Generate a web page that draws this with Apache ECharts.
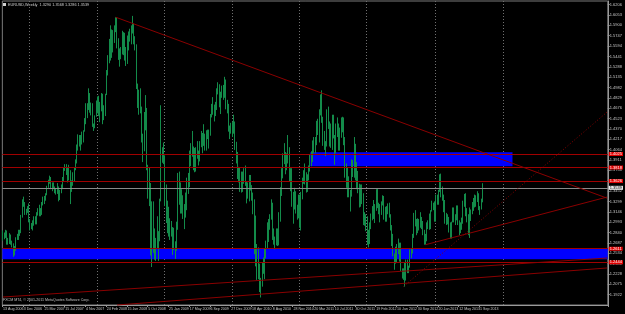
<!DOCTYPE html>
<html>
<head>
<meta charset="utf-8">
<script src="https://cdn.jsdelivr.net/npm/echarts@6/dist/echarts.min.js"></script>
<style>
  html, body { margin: 0; padding: 0; background: #000; }
  #main { width: 625px; height: 314px; }
</style>
</head>
<body>
<div id="main"></div>
<script>
// EURUSD weekly, first bar = week of 13 Aug 2006
const firstOpen = 1.2770
const closes = [
  // 2006
  1.2820,1.2760,1.2840,1.2680,1.2690,1.2800,1.2680,1.2650,1.2520,1.2620,1.2760,1.2760,1.2830,1.2830,1.3080,1.3260,1.3250,1.3140,1.3160,1.3200,1.3000,
  // 2007
  1.2950,1.2950,1.2950,1.3050,1.2990,1.3120,1.3180,1.3120,1.3110,1.3260,1.3290,1.3340,1.3400,1.3520,1.3580,1.3630,1.3500,1.3520,1.3510,1.3440,1.3450,1.3510,1.3330,1.3450,1.3510,1.3620,1.3780,1.3820,1.3740,1.3720,1.3740,1.3450,1.3530,1.3620,1.3780,1.3880,1.4120,1.4260,1.4240,1.4200,1.4300,1.4340,1.4530,1.4650,1.4680,1.4830,1.4630,1.4650,1.4430,1.4400,1.4560,1.4750,
  // 2008
  1.4740,1.4620,1.4690,1.4820,1.4520,1.4630,1.4880,1.5180,1.5360,1.5660,1.5450,1.5780,1.5800,1.5800,1.5930,1.5600,1.5440,1.5500,1.5520,1.5790,1.5550,1.5580,1.5370,1.5730,1.5790,1.5690,1.5820,1.5870,1.5700,1.5600,1.5000,1.4700,1.4930,1.4670,1.4260,1.4100,1.4500,1.4620,1.3800,1.3430,1.3400,1.2530,1.2730,1.2720,1.2560,1.2700,1.2690,1.2710,1.3310,1.3900,1.4000,1.3960,
  // 2009
  1.3440,1.3150,1.2830,1.2800,1.2940,1.2860,1.2670,1.2660,1.2630,1.2930,1.3580,1.3270,1.3480,1.3160,1.3070,1.3250,1.3270,1.3480,1.3510,1.3990,1.4120,1.3960,1.4010,1.3960,1.4040,1.3960,1.3940,1.4170,1.4200,1.4250,1.4180,1.4190,1.4320,1.4300,1.4310,1.4570,1.4700,1.4680,1.4560,1.4700,1.4900,1.5010,1.4730,1.4920,1.4900,1.4940,1.4970,1.4680,1.4610,1.4350,1.4400,1.4320,
  // 2010
  1.4410,1.4380,1.4140,1.3860,1.3680,1.3620,1.3610,1.3630,1.3630,1.3730,1.3530,1.3420,1.3550,1.3620,1.3500,1.3390,1.3290,1.2750,1.2360,1.2570,1.2270,1.1970,1.2110,1.2400,1.2240,1.2580,1.2640,1.2940,1.2910,1.3070,1.3280,1.2750,1.2710,1.2760,1.2890,1.2760,1.3050,1.3490,1.3790,1.3950,1.3980,1.3960,1.3940,1.4030,1.3680,1.3690,1.3240,1.3400,1.3240,1.3190,1.3090,1.3380,
  // 2011
  1.2910,1.3380,1.3620,1.3620,1.3580,1.3510,1.3690,1.3740,1.3920,1.3910,1.4020,1.4080,1.4230,1.4490,1.4430,1.4570,1.4800,1.4540,1.4140,1.4160,1.4150,1.4640,1.4450,1.4320,1.4200,1.4530,1.4260,1.4150,1.4380,1.4400,1.4280,1.4240,1.4400,1.4490,1.4210,1.3650,1.3780,1.3500,1.3390,1.3380,1.3880,1.3900,1.4150,1.3770,1.3750,1.3520,1.3240,1.3450,1.3380,1.3040,1.3050,1.2940,
  // 2012
  1.2720,1.2680,1.2930,1.3100,1.3150,1.3200,1.3160,1.3450,1.3200,1.3120,1.3180,1.3270,1.3340,1.3100,1.3080,1.3220,1.3240,1.3080,1.2910,1.2780,1.2520,1.2430,1.2630,1.2640,1.2570,1.2670,1.2290,1.2250,1.2160,1.2310,1.2390,1.2290,1.2340,1.2510,1.2580,1.2820,1.3130,1.2980,1.2860,1.3040,1.2950,1.3020,1.2940,1.2830,1.2700,1.2740,1.2970,1.2990,1.2930,1.3160,1.3210,1.3220,1.3070,
  // 2013
  1.3340,1.3320,1.3460,1.3640,1.3370,1.3360,1.3190,1.3020,1.3010,1.3070,1.2990,1.2820,1.2990,1.3110,1.3060,1.3030,1.3110,1.2990,1.2840,1.2930,1.3000,1.3220,1.3340,1.3120,1.3010,1.2830,1.3070,1.3140,1.3270,1.3270,1.3340,1.3340,1.3380,1.3220,1.3180,1.3290,1.3539
]
const highs = [
  1.2870,1.2840,1.2880,1.2870,1.2760,1.2830,1.2810,1.2720,1.2680,1.2640,1.2770,1.2820,1.2880,1.2880,1.3100,1.3330,1.3370,1.3290,1.3190,1.3230,1.3270,
  1.3040,1.2980,1.3020,1.3080,1.3080,1.3140,1.3200,1.3250,1.3200,1.3290,1.3370,1.3380,1.3420,1.3530,1.3620,1.3680,1.3660,1.3580,1.3580,1.3520,1.3490,1.3570,1.3520,1.3470,1.3550,1.3660,1.3800,1.3850,1.3850,1.3800,1.3840,1.3760,1.3610,1.3730,1.3800,1.3920,1.4140,1.4290,1.4280,1.4280,1.4330,1.4350,1.4530,1.4750,1.4750,1.4970,1.4900,1.4760,1.4750,1.4450,1.4570,1.4790,
  1.4850,1.4860,1.4770,1.4900,1.4890,1.4720,1.4890,1.5240,1.5460,1.5700,1.5900,1.5840,1.5830,1.5900,1.6020,1.6020,1.5710,1.5560,1.5580,1.5820,1.5800,1.5790,1.5500,1.5750,1.5810,1.5850,1.5900,1.6040,1.5930,1.5740,1.5620,1.5040,1.4950,1.4970,1.4700,1.4300,1.4620,1.4870,1.4680,1.3840,1.3800,1.3570,1.3300,1.3300,1.2900,1.2760,1.3080,1.2860,1.3340,1.4720,1.4100,1.4170,
  1.3980,1.3550,1.3310,1.3220,1.3050,1.3010,1.2920,1.2910,1.2710,1.3000,1.3720,1.3740,1.3580,1.3460,1.3390,1.3260,1.3430,1.3650,1.3720,1.4050,1.4160,1.4340,1.4110,1.4090,1.4100,1.4190,1.4050,1.4190,1.4340,1.4310,1.4440,1.4300,1.4350,1.4360,1.4360,1.4590,1.4740,1.4840,1.4730,1.4770,1.4970,1.5060,1.5030,1.4920,1.5010,1.5020,1.5140,1.5100,1.4800,1.4740,1.4420,1.4460,
  1.4480,1.4580,1.4480,1.4180,1.4030,1.3810,1.3800,1.3740,1.3740,1.3790,1.3830,1.3590,1.3580,1.3690,1.3690,1.3540,1.3430,1.3330,1.3090,1.2670,1.2620,1.2380,1.2170,1.2400,1.2470,1.2600,1.2720,1.2990,1.3040,1.3110,1.3330,1.3270,1.2900,1.2780,1.2900,1.2900,1.3140,1.3510,1.3790,1.4010,1.4160,1.4030,1.4010,1.4280,1.4100,1.3790,1.3790,1.3440,1.3500,1.3450,1.3250,1.3400,
  1.3400,1.3440,1.3650,1.3760,1.3860,1.3730,1.3700,1.3830,1.4000,1.4040,1.4200,1.4250,1.4250,1.4490,1.4520,1.4660,1.4880,1.4940,1.4550,1.4340,1.4190,1.4660,1.4700,1.4480,1.4450,1.4580,1.4580,1.4280,1.4450,1.4540,1.4450,1.4390,1.4540,1.4550,1.4540,1.4250,1.3860,1.3800,1.3670,1.3470,1.3920,1.3910,1.4250,1.4130,1.3880,1.3660,1.3560,1.3550,1.3550,1.3420,1.3140,1.3110,
  1.3080,1.2880,1.2990,1.3120,1.3230,1.3320,1.3260,1.3480,1.3490,1.3280,1.3260,1.3300,1.3390,1.3380,1.3220,1.3230,1.3270,1.3280,1.3110,1.2950,1.2820,1.2530,1.2630,1.2670,1.2750,1.2690,1.2690,1.2310,1.2310,1.2400,1.2440,1.2440,1.2350,1.2590,1.2600,1.2820,1.3130,1.3170,1.3040,1.3050,1.3000,1.3140,1.3070,1.3010,1.2880,1.2820,1.2990,1.3020,1.3120,1.3170,1.3310,1.3280,1.3300,
  1.3400,1.3400,1.3470,1.3700,1.3710,1.3520,1.3400,1.3320,1.3130,1.3110,1.3070,1.2990,1.3000,1.3210,1.3210,1.3110,1.3240,1.3240,1.3020,1.2990,1.3060,1.3310,1.3410,1.3420,1.3200,1.3110,1.3210,1.3180,1.3290,1.3350,1.3400,1.3390,1.3450,1.3420,1.3230,1.3340,1.3568
]
const lows = [
  1.2720,1.2740,1.2760,1.2660,1.2660,1.2670,1.2660,1.2620,1.2480,1.2500,1.2570,1.2730,1.2730,1.2790,1.2830,1.3060,1.3220,1.3100,1.3100,1.3130,1.2990,
  1.2870,1.2890,1.2870,1.2940,1.2960,1.2960,1.3090,1.3080,1.3080,1.3100,1.3240,1.3260,1.3310,1.3390,1.3500,1.3560,1.3480,1.3450,1.3480,1.3420,1.3400,1.3410,1.3300,1.3320,1.3420,1.3480,1.3600,1.3750,1.3690,1.3580,1.3610,1.3260,1.3440,1.3530,1.3590,1.3760,1.3860,1.4050,1.4110,1.4050,1.4140,1.4170,1.4330,1.4440,1.4530,1.4650,1.4610,1.4570,1.4400,1.4340,1.4380,1.4550,
  1.4600,1.4560,1.4470,1.4630,1.4440,1.4500,1.4560,1.4870,1.5160,1.5340,1.5380,1.5420,1.5500,1.5640,1.5830,1.5560,1.5390,1.5290,1.5400,1.5470,1.5460,1.5380,1.5300,1.5330,1.5530,1.5660,1.5620,1.5780,1.5620,1.5530,1.4960,1.4680,1.4580,1.4600,1.4170,1.3880,1.4040,1.4350,1.3760,1.3340,1.3230,1.2500,1.2330,1.2540,1.2440,1.2420,1.2600,1.2420,1.2710,1.3300,1.3870,1.3850,
  1.3230,1.2980,1.2830,1.2780,1.2730,1.2780,1.2510,1.2580,1.2450,1.2570,1.2880,1.3250,1.3120,1.3120,1.3040,1.2890,1.3060,1.3170,1.3410,1.3560,1.3820,1.3960,1.3760,1.3730,1.3740,1.3930,1.3830,1.3890,1.4100,1.4010,1.4120,1.4050,1.4050,1.4220,1.4080,1.4270,1.4540,1.4580,1.4480,1.4600,1.4650,1.4880,1.4690,1.4590,1.4830,1.4800,1.4830,1.4660,1.4600,1.4330,1.4220,1.4300,
  1.4250,1.4300,1.4060,1.3860,1.3630,1.3580,1.3440,1.3430,1.3440,1.3560,1.3530,1.3270,1.3340,1.3300,1.3460,1.3310,1.3110,1.2520,1.2340,1.2140,1.2150,1.1960,1.1880,1.2040,1.2230,1.2150,1.2460,1.2600,1.2700,1.2880,1.3030,1.2730,1.2660,1.2590,1.2650,1.2640,1.2650,1.3000,1.3380,1.3640,1.3850,1.3700,1.3760,1.3860,1.3590,1.3450,1.3220,1.2970,1.3180,1.3120,1.3030,1.3050,
  1.2910,1.2870,1.3330,1.3560,1.3550,1.3430,1.3440,1.3610,1.3740,1.3820,1.3880,1.4010,1.4010,1.4130,1.4280,1.4170,1.4570,1.4460,1.4120,1.4060,1.3970,1.4110,1.4370,1.4110,1.4090,1.4060,1.4230,1.3840,1.4010,1.4250,1.4050,1.4050,1.4240,1.4320,1.4130,1.3650,1.3500,1.3360,1.3360,1.3150,1.3370,1.3660,1.3650,1.3610,1.3480,1.3420,1.3210,1.3220,1.3260,1.2950,1.2940,1.2860,
  1.2660,1.2620,1.2670,1.2890,1.3020,1.3040,1.2980,1.3180,1.3200,1.3110,1.2990,1.3100,1.3240,1.3030,1.3000,1.3000,1.3110,1.3060,1.2870,1.2640,1.2490,1.2290,1.2380,1.2400,1.2520,1.2410,1.2270,1.2160,1.2140,1.2040,1.2130,1.2240,1.2240,1.2320,1.2460,1.2530,1.2760,1.2930,1.2800,1.2830,1.2870,1.2910,1.2890,1.2800,1.2660,1.2660,1.2710,1.2890,1.2880,1.2890,1.3150,1.3170,1.3000,
  1.3000,1.3250,1.3250,1.3440,1.3360,1.3310,1.3140,1.2970,1.2950,1.2960,1.2840,1.2750,1.2750,1.2990,1.2990,1.2950,1.3020,1.2950,1.2800,1.2830,1.2880,1.2970,1.3260,1.3080,1.2990,1.2800,1.2760,1.3010,1.3110,1.3160,1.3210,1.3220,1.3290,1.3170,1.3100,1.3230,1.3286
]

// horizontal lines (price levels), bid line, zones
const levelLines = [1.4025, 1.3818, 1.3626, 1.2611, 1.2444]
const bidPrice = 1.3539
const upperZone = { from: 237, to: 393, top: 1.4025, bottom: 1.3818 }
const lowerZone = { top: 1.2611, bottom: 1.2444 }
// trend lines: [weekIndex, price]
const trendLines = [
  { a: [87, 1.6020], b: [466, 1.3347], dotted: false },
  { a: [326, 1.2660], b: [466, 1.3364], dotted: false },
  { a: [309, 1.2042], b: [466, 1.4620], dotted: true },
  { a: [0, 1.1887], b: [466, 1.2463], dotted: false },
  { a: [88, 1.1769], b: [466, 1.2316], dotted: false }
]

const totalWeeks = 467
const gridLastWeek = 400
const months = ['Jan','Feb','Mar','Apr','May','Jun','Jul','Aug','Sep','Oct','Nov','Dec']
const weekDates = []
for (let i = 0; i < totalWeeks; i++) {
  weekDates.push(new Date(Date.UTC(2006, 7, 13 + 7 * i)))
}
const categories = weekDates.map(d => d.getUTCDate() + ' ' + months[d.getUTCMonth()] + ' ' + d.getUTCFullYear())

const candles = closes.map((c, i) => {
  const o = i === 0 ? firstOpen : closes[i - 1]
  const h = Math.max(highs[i], o, c)
  const l = Math.min(lows[i], o, c)
  return [o, c, l, h]
})
const lastIdx = closes.length - 1
const last = candles[lastIdx]

const green = '#138b4a'
const lineRed = '#a00000'
const darkRed = '#8a0000'
const txt = '#c8c8c8'
const font = 'Liberation Sans'

const chart = echarts.init(document.getElementById('main'))
chart.setOption({
  backgroundColor: '#000',
  animation: false,
  grid: {
    left: 1, right: 15, top: 1, bottom: 9,
    show: true, borderColor: '#7a7a7a', borderWidth: 1
  },
  xAxis: {
    type: 'category',
    data: categories,
    boundaryGap: true,
    axisLine: { lineStyle: { color: '#9a9a9a', width: 1 } },
    axisTick: {
      show: true, length: 2,
      interval: (i) => i % 16 === 0 && i <= lastIdx,
      lineStyle: { color: '#9a9a9a' }
    },
    axisLabel: {
      interval: (i) => i % 16 === 0 && i <= lastIdx,
      color: txt, fontSize: 3.6, fontFamily: font,
      align: 'left', margin: 2
    },
    splitLine: {
      show: true,
      interval: (i) => {
        const d = weekDates[i]
        return i < gridLastWeek && d.getUTCMonth() === 0 && d.getUTCDate() <= 7
      },
      lineStyle: { color: '#707070', type: [1, 2], width: 1 }
    }
  },
  yAxis: {
    type: 'value',
    position: 'right',
    min: 1.1769,
    max: 1.6260,
    interval: 0.0153,
    axisLine: { show: true, lineStyle: { color: '#9a9a9a' } },
    axisTick: { show: true, length: 2, lineStyle: { color: '#9a9a9a' } },
    axisLabel: {
      color: txt, fontSize: 4, fontFamily: font, margin: 2,
      showMinLabel: false, showMaxLabel: false,
      formatter: v => v.toFixed(4)
    },
    splitLine: { show: false }
  },
  graphic: [
    { type: 'rect', left: 3, top: 3, shape: { width: 3, height: 3 }, style: { fill: '#d0d0d0' } },
    {
      type: 'text', left: 8, top: 2.5,
      style: {
        text: 'EURUSD,Weekly  ' + last[0].toFixed(4) + ' ' + last[3].toFixed(4) + ' ' + last[2].toFixed(4) + ' ' + last[1].toFixed(4),
        fill: '#d0d0d0', fontSize: 3.8, fontFamily: font
      }
    },
    {
      type: 'text', left: 3, top: 298,
      style: { text: 'FXCM MT4, © 2001-2011 MetaQuotes Software Corp.', fill: '#c0c0c0', fontSize: 3.6, fontFamily: font }
    }
  ],
  series: [
    {
      type: 'candlestick',
      data: candles,
      barWidth: 1,
      itemStyle: {
        color: green, color0: green,
        borderColor: green, borderColor0: green, borderWidth: 1
      },
      markArea: {
        silent: true,
        itemStyle: { color: '#0000ff', opacity: 1 },
        data: [
          [{ xAxis: upperZone.from, yAxis: upperZone.top }, { xAxis: upperZone.to, yAxis: upperZone.bottom }],
          [{ yAxis: lowerZone.top }, { yAxis: lowerZone.bottom }]
        ]
      },
      markLine: {
        silent: true,
        symbol: ['none', 'none'],
        data: [
          ...levelLines.map(v => ({
            yAxis: v,
            lineStyle: { color: lineRed, width: 1, type: 'solid' },
            label: {
              show: true, position: 'end', distance: 1,
              formatter: () => v.toFixed(4),
              color: '#fff', backgroundColor: '#e00000',
              fontSize: 4, fontFamily: font, padding: [0, 1]
            }
          })),
          {
            yAxis: bidPrice,
            lineStyle: { color: '#8a8a8a', width: 1, type: 'solid' },
            label: {
              show: true, position: 'end', distance: 1,
              formatter: () => bidPrice.toFixed(4),
              color: '#000', backgroundColor: '#e8e8e8',
              fontSize: 4, fontFamily: font, padding: [0, 1]
            }
          },
          ...trendLines.map(t => [
            { coord: t.a, lineStyle: { color: darkRed, width: 1, type: t.dotted ? [1, 2] : 'solid' }, label: { show: false } },
            { coord: t.b }
          ])
        ]
      }
    }
  ]
})
</script>
</body>
</html>
